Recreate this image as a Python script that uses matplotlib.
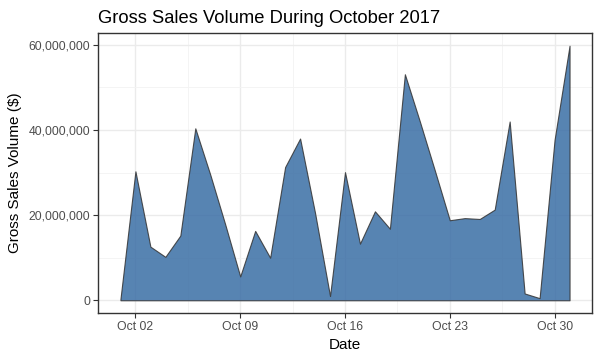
import numpy as np
import pandas as pd
import matplotlib
matplotlib.use('Agg')
import matplotlib.pyplot as plt
import matplotlib.dates as mdates
from matplotlib.ticker import FuncFormatter, FixedLocator

# daily gross sales, October 2017
days = pd.date_range('2017-10-01', '2017-10-31', freq='D')
sales = [0.3e6, 30.3e6, 12.6e6, 10.2e6, 15.2e6, 40.4e6, 29.5e6, 17.8e6, 5.6e6, 16.3e6,
         10.0e6, 31.3e6, 38.0e6, 20.5e6, 1.0e6, 30.1e6, 13.3e6, 20.9e6, 16.8e6, 53.1e6,
         42.0e6, 30.5e6, 18.8e6, 19.3e6, 19.1e6, 21.3e6, 42.0e6, 1.6e6, 0.5e6, 37.7e6,
         59.8e6]
tickDays = pd.to_datetime(['2017-10-02', '2017-10-09', '2017-10-16', '2017-10-23', '2017-10-30'])
minorDays = pd.to_datetime(['2017-10-05 12:00', '2017-10-12 12:00', '2017-10-19 12:00', '2017-10-26 12:00'])
yTicks = [0, 20e6, 40e6, 60e6]
yMinor = [10e6, 30e6, 50e6]

plt.rcParams['font.family'] = ['Liberation Sans', 'DejaVu Sans']

fig = plt.figure(figsize=(6.04, 3.57), dpi=100)
ax = fig.add_axes([98/604, 1-313/357, (592-98)/604, (313-33)/357])

ax.fill_between(days, 0, sales, facecolor='#3A6EA5', alpha=0.85, edgecolor='#333333', linewidth=0.8, zorder=3)

# limits with ggplot-like 5% padding
span = days[-1] - days[0]
ax.set_xlim(days[0] - span*0.05, days[-1] + span*0.05)
ymax = max(sales)
ax.set_ylim(-0.05*ymax, 1.05*ymax)

ax.xaxis.set_major_locator(FixedLocator(mdates.date2num(tickDays)))
ax.xaxis.set_minor_locator(FixedLocator(mdates.date2num(minorDays)))
ax.xaxis.set_major_formatter(mdates.DateFormatter('%b %d'))
ax.yaxis.set_major_locator(FixedLocator(yTicks))
ax.yaxis.set_minor_locator(FixedLocator(yMinor))
ax.yaxis.set_major_formatter(FuncFormatter(lambda v, p: f'{int(round(v)):,}'))

ax.grid(which='major', color='#EBEBEB', linewidth=1.0, zorder=0)
ax.grid(which='minor', color='#F3F3F3', linewidth=0.6, zorder=0)
ax.set_axisbelow(True)
ax.tick_params(which='major', length=3.5, width=0.8, color='#333333', labelsize=8.8, labelcolor='#4D4D4D', pad=2)
ax.tick_params(which='minor', length=0)
for s in ax.spines.values():
    s.set_color('#333333')
    s.set_linewidth(1.0)

ax.set_xlabel('Date', fontsize=11, color='black', labelpad=4)
ax.set_ylabel('Gross Sales Volume ($)', fontsize=11, color='black', labelpad=5)
ax.set_title('Gross Sales Volume During October 2017', fontsize=13.2, loc='left', color='black', pad=7)

fig.savefig('out.png', dpi=100)
